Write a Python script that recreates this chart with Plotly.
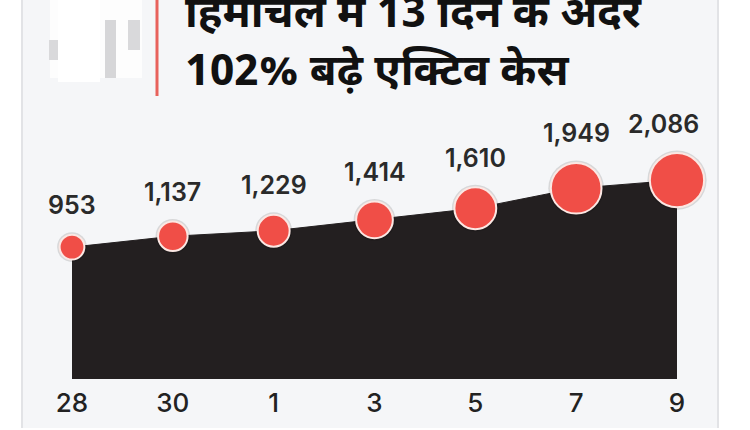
import plotly.graph_objects as go

dates = ["28", "30", "1", "3", "5", "7", "9"]
active_cases = [953, 1137, 1229, 1414, 1610, 1949, 2086]
title_line1 = "हिमाचल में 13 दिन के अंदर"
title_line2 = "102% बढ़े एक्टिव केस"

W, H = 750, 430
ML, MR, MT, MB = 72, 73, 100, 51
Y_MIN, Y_MAX = -1279, 3442
plot_h = H - MT - MB
plot_w = W - ML - MR

def px_x(p):
    return (p - ML) / plot_w

def px_y(p):
    return (H - MB - p) / plot_h

xs = list(range(len(dates)))
sizes = [v * 0.026 for v in active_cases]

fig = go.Figure()
fig.add_trace(go.Scatter(x=xs, y=[Y_MIN] * len(xs), mode="lines",
                         line=dict(width=0), hoverinfo="skip", showlegend=False))
fig.add_trace(go.Scatter(x=xs, y=active_cases, mode="lines", fill="tonexty",
                         fillcolor="#231f20", line=dict(color="#231f20", width=1),
                         showlegend=False))
# soft shadow under markers
fig.add_trace(go.Scatter(x=xs, y=active_cases, mode="markers", cliponaxis=False,
                         marker=dict(size=[s + 5 for s in sizes], color="rgba(0,0,0,0.12)",
                                     opacity=1, line=dict(width=0)),
                         hoverinfo="skip", showlegend=False))
fig.add_trace(go.Scatter(x=xs, y=active_cases, mode="markers", cliponaxis=False,
                         marker=dict(size=sizes, color="#f04e47", opacity=1,
                                     line=dict(color="#fbe7e3", width=2)),
                         showlegend=False))

num_font = dict(family="Inter, Lato, sans-serif", size=25, color="#2a2a2a", weight=600)
for i, (x, v, s) in enumerate(zip(xs, active_cases, sizes)):
    fig.add_annotation(x=x, y=v, text=f"{v:,}", showarrow=False,
                       yanchor="middle", yshift=s / 2 + 29.5,
                       xshift=-14 if i == len(xs) - 1 else 0, font=num_font)

hin_font = dict(family="Noto Sans Devanagari, Noto Sans, sans-serif", size=43.5,
                color="#111111", weight=700)
fig.add_annotation(xref="paper", yref="paper", x=px_x(183), y=px_y(16),
                   xanchor="left", yanchor="middle", text=title_line1,
                   showarrow=False, font=hin_font)
fig.add_annotation(xref="paper", yref="paper", x=px_x(183), y=px_y(74),
                   xanchor="left", yanchor="middle", text=title_line2,
                   showarrow=False, font=hin_font)

def rect(x0, x1, y0, y1, color, layer="below"):
    return dict(type="rect", xref="paper", yref="paper", x0=px_x(x0), x1=px_x(x1),
                y0=px_y(y1), y1=px_y(y0), fillcolor=color, line=dict(width=0), layer=layer)

def line(x0, x1, y0, y1, color, width, layer="below"):
    return dict(type="line", xref="paper", yref="paper", x0=px_x(x0), x1=px_x(x1),
                y0=px_y(y1), y1=px_y(y0), line=dict(color=color, width=width), layer=layer)

shapes = [
    rect(22, 718, 0, 428, "#f5f6f8"),
    line(22, 22, 0, 428, "#e2e3e6", 2),
    line(718, 718, 0, 428, "#e2e3e6", 2),
    # faded figure at top-left
    rect(50, 142, 0, 78, "#fdfdfd"),
    rect(58, 100, 0, 82, "#ffffff"),
    rect(49, 58, 40, 60, "#d9d9db"),
    rect(105, 116, 20, 78, "#d6d6d8"),
    rect(128, 140, 20, 50, "#d9d9db"),
    # red accent bar
    line(157, 157, 0, 96, "#e8625c", 3, layer="above"),
]
fig.update_layout(shapes=shapes)

fig.update_layout(
    width=W, height=H,
    margin=dict(l=ML, r=MR, t=MT, b=MB, autoexpand=False),
    paper_bgcolor="#ffffff", plot_bgcolor="rgba(0,0,0,0)",
    xaxis=dict(range=[0, len(xs) - 1], tickvals=xs, ticktext=dates,
               showgrid=False, zeroline=False, showline=False, automargin=False,
               ticklabelstandoff=6,
               tickfont=dict(family="Inter, Lato, sans-serif", size=26, color="#222222", weight=500)),
    yaxis=dict(range=[Y_MIN, Y_MAX], visible=False, automargin=False),
    showlegend=False,
)

fig.write_html("out.html", config={"displayModeBar": False},
               post_script="document.body.style.margin='0px';")
